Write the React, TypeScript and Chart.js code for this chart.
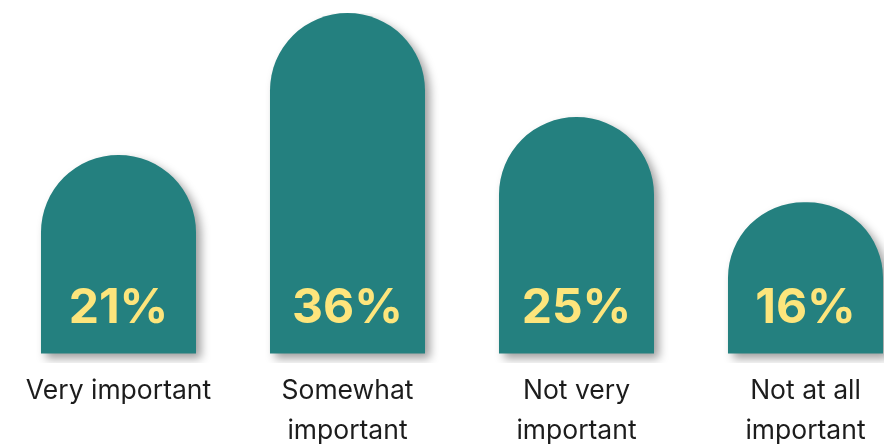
import React, { useEffect, useRef } from "react";
import { Chart, registerables } from "chart.js";

Chart.register(...registerables);

const categories: string[][] = [
  ["Very important"],
  ["Somewhat", "important"],
  ["Not very", "important"],
  ["Not at all", "important"],
];
const values: number[] = [21, 36, 25, 16];
const valueLabels: string[] = ["21%", "36%", "25%", "16%"];

const BAR_COLOR = "#24807F";
const LABEL_COLOR = "#FDE57C";

export default function App() {
  const ref = useRef<HTMLCanvasElement | null>(null);

  useEffect(() => {
    if (!ref.current) return;
    const shadowPlugin = {
      id: "barShadow",
      beforeDatasetsDraw(chart: any) {
        const ctx = chart.ctx;
        ctx.save();
        ctx.shadowColor = "rgba(0,0,0,0.38)";
        ctx.shadowBlur = 10;
        ctx.shadowOffsetX = 5;
        ctx.shadowOffsetY = 5;
      },
      afterDatasetsDraw(chart: any) {
        chart.ctx.restore();
        const ctx = chart.ctx;
        const meta = chart.getDatasetMeta(0);
        ctx.save();
        ctx.fillStyle = LABEL_COLOR;
        ctx.font = "700 48px Inter";
        ctx.textAlign = "center";
        ctx.textBaseline = "middle";
        meta.data.forEach((bar: any, i: number) => {
          ctx.fillText(valueLabels[i], bar.x, bar.base - 45);
        });
        ctx.restore();
      },
    };

    const chart = new Chart(ref.current, {
      type: "bar",
      data: {
        labels: categories,
        datasets: [
          {
            data: values,
            backgroundColor: BAR_COLOR,
            borderRadius: { topLeft: 80, topRight: 80, bottomLeft: 0, bottomRight: 0 },
            borderSkipped: "bottom",
            barPercentage: 0.677,
            categoryPercentage: 1,
          },
        ],
      },
      options: {
        responsive: false,
        animation: false,
        layout: { padding: { left: 4, right: 4, top: 13, bottom: 0 } },
        plugins: { legend: { display: false }, tooltip: { enabled: false } },
        scales: {
          x: {
            grid: { display: false, drawTicks: false },
            border: { display: false },
            ticks: {
              color: "#1c1c1c",
              font: { family: "Inter", size: 26.5, lineHeight: 1.51 },
              padding: 8,
              autoSkip: false,
              maxRotation: 0,
            },
            afterFit(scale: any) {
              scale.height = 81;
            },
          },
          y: {
            display: false,
            min: -1,
            max: 36,
          },
        },
      },
      plugins: [shadowPlugin],
    });
    return () => chart.destroy();
  }, []);

  return (
    <div style={{ position: "fixed", left: 0, top: 0, width: 924, height: 444 }}>
      <canvas ref={ref} width={924} height={444} />
    </div>
  );
}
